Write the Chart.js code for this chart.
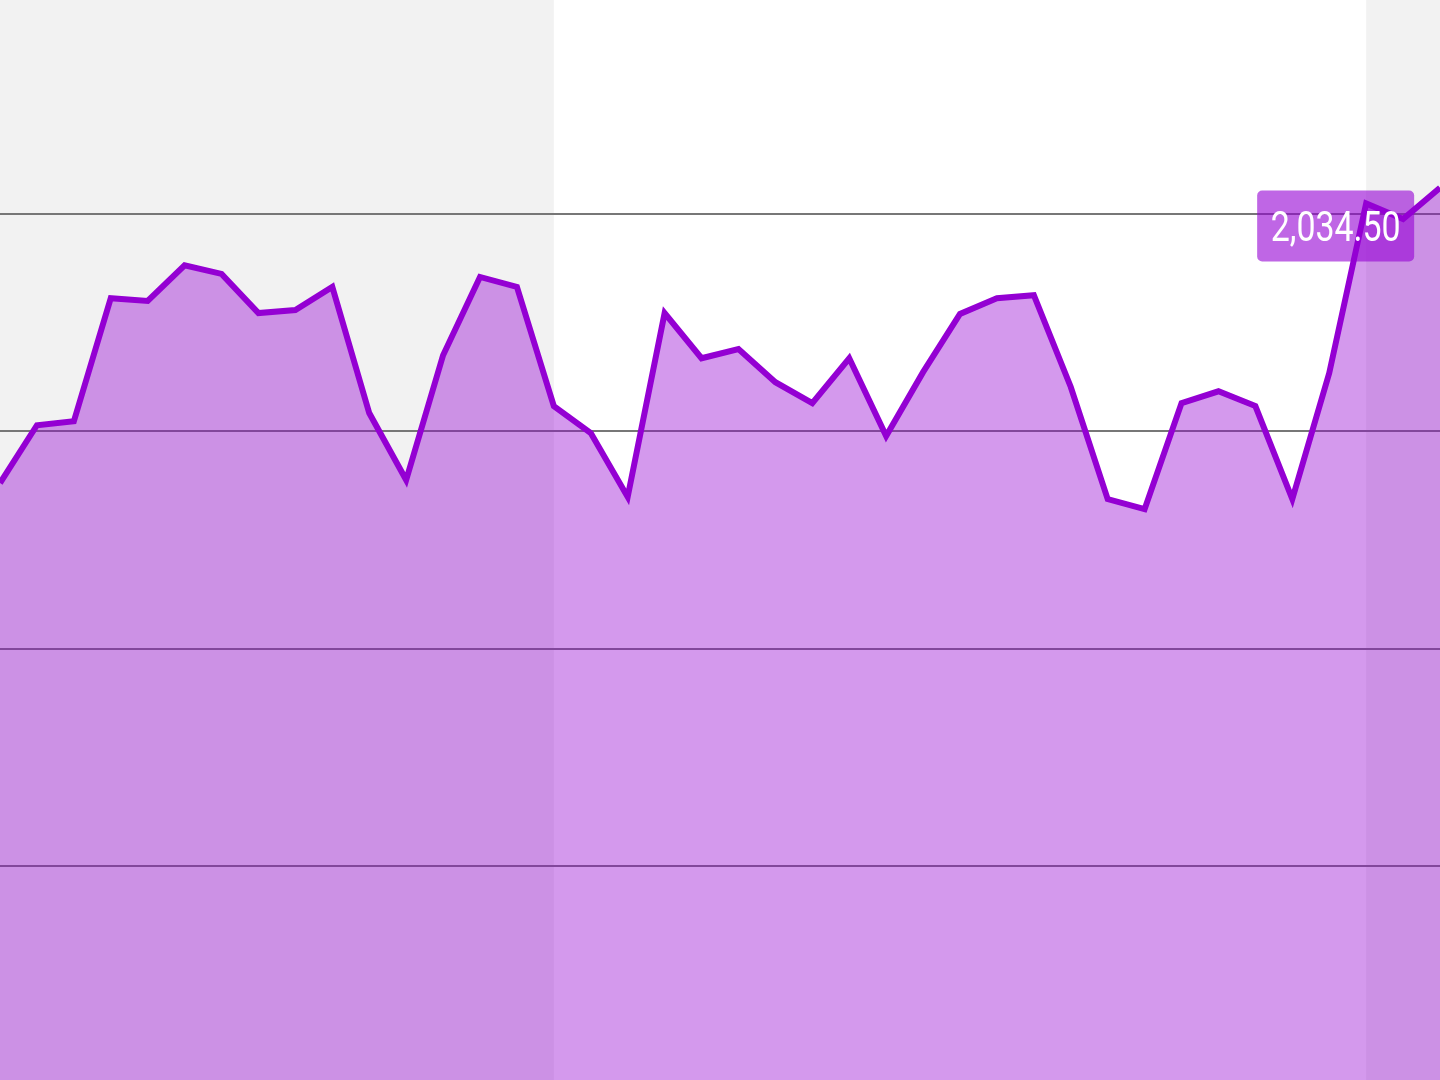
<!DOCTYPE html>
<html>
<head>
<meta charset="utf-8">
<title>Price chart</title>
<script src="https://cdn.jsdelivr.net/npm/chart.js@4.4.1/dist/chart.umd.min.js"></script>
<style>
  html, body { margin: 0; padding: 0; background: #ffffff; }
  #wrap { width: 1440px; height: 1080px; }
</style>
</head>
<body>
<div id="wrap"><canvas id="priceChart"></canvas></div>
<script>
// data
const labels = [];
for (let i = 0; i < 40; i++) labels.push(i);

const prices = [
  1381, 1514, 1523, 1806, 1800, 1882, 1862, 1772, 1779, 1832,
  1542, 1388, 1675, 1855, 1832, 1558, 1496, 1349, 1772, 1668,
  1689, 1613, 1565, 1668, 1489, 1636, 1770, 1806, 1813, 1602,
  1344, 1321, 1565, 1592, 1558, 1344, 1634, 2024, 1988, 2060
];

const gridValues = [500, 1000, 1500, 2000];

// shaded bands (start index, end index)
const bandStarts = [0, 37];
const bandEnds = [15, 39];

const labelIndex = 37;
const labelText = '2,034.50';

const lineColor = '#9400d3';

const bandsPlugin = {
  id: 'bands',
  beforeDraw(chart) {
    const { ctx, chartArea, scales } = chart;
    ctx.save();
    ctx.fillStyle = '#f2f2f2';
    for (let i = 0; i < bandStarts.length; i++) {
      let x0 = bandStarts[i] === 0 ? chartArea.left : scales.x.getPixelForValue(bandStarts[i]);
      let x1 = bandEnds[i] === labels.length - 1 ? chartArea.right : scales.x.getPixelForValue(bandEnds[i]);
      ctx.fillRect(x0, chartArea.top, x1 - x0, chartArea.bottom - chartArea.top);
    }
    ctx.restore();
  }
};

const priceLabelPlugin = {
  id: 'priceLabel',
  afterDatasetsDraw(chart) {
    const { ctx } = chart;
    const pt = chart.getDatasetMeta(0).data[labelIndex];
    const w = 157, h = 71;
    const left = pt.x - 109;
    const top = pt.y - 13;
    ctx.save();
    ctx.fillStyle = 'rgba(148, 0, 211, 0.6)';
    ctx.beginPath();
    ctx.roundRect(left, top, w, h, 5);
    ctx.fill();
    // condensed look: squeeze the text to the width seen in the picture
    ctx.fillStyle = '#ffffff';
    ctx.font = '400 43px Roboto, "Noto Sans", sans-serif';
    ctx.textAlign = 'center';
    ctx.textBaseline = 'alphabetic';
    const sx = 130 / ctx.measureText(labelText).width;
    ctx.translate(left + w / 2, top + h / 2 + 15);
    ctx.scale(sx, 1);
    ctx.fillText(labelText, 0, 0);
    ctx.restore();
  }
};

new Chart(document.getElementById('priceChart'), {
  type: 'line',
  data: {
    labels: labels,
    datasets: [{
      data: prices,
      borderColor: lineColor,
      borderWidth: 6,
      backgroundColor: 'rgba(148, 0, 211, 0.4)',
      fill: 'start',
      tension: 0,
      pointRadius: 0,
      borderJoinStyle: 'miter'
    }]
  },
  options: {
    responsive: true,
    maintainAspectRatio: false,
    animation: false,
    layout: { padding: 0 },
    plugins: {
      legend: { display: false },
      tooltip: { enabled: false }
    },
    scales: {
      x: {
        display: false,
        offset: false
      },
      y: {
        min: 8,
        max: 2492,
        afterBuildTicks(axis) {
          axis.ticks = gridValues.map(v => ({ value: v }));
        },
        ticks: { display: false },
        border: { display: false },
        grid: {
          color: '#777777',
          lineWidth: 2,
          drawTicks: false
        }
      }
    }
  },
  plugins: [bandsPlugin, priceLabelPlugin]
});
</script>
</body>
</html>
